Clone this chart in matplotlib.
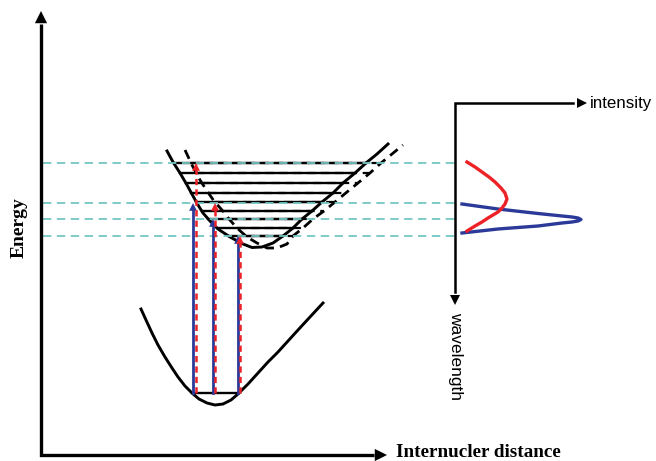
import numpy as np
import matplotlib
matplotlib.use("Agg")
import matplotlib.pyplot as plt

plt.rcParams['lines.scale_dashes'] = False

# ---- data (pixel coordinates, y downward) ----
level_y = [163, 173, 183, 193, 202, 211, 219, 228, 236]
guide_y = [163, 203, 219, 236]

upper_solid_x = [167, 173, 180, 187, 193, 198, 203, 210, 218, 230, 243, 252, 262,
                 273, 283, 293, 302, 312, 322, 333, 343, 355, 366, 377, 388]
upper_solid_y = [151, 162, 173, 185, 196, 205, 213, 221, 229, 237, 244, 247.5, 247,
                 243, 236, 228, 219, 211, 202, 193, 183, 173, 163, 154, 144]

upper_dash_x = [185, 192, 200, 207, 214, 222, 229, 237, 247, 257, 267, 277,
                287, 293, 303, 313, 324, 335, 347, 358, 370, 381, 392, 403]
upper_dash_y = [150, 165, 180, 191, 201, 210, 219, 228, 237, 243, 248, 248,
                244, 236, 228, 219, 211, 202, 192, 183, 173, 163, 154, 145]

lower_x = [141, 146, 152, 158, 165, 172, 178, 185, 192, 199, 207, 215, 223, 231,
           238, 248, 258, 268, 278, 288, 298, 310, 323]
lower_y = [309, 320, 333, 345, 357, 368, 377, 386, 393, 399, 403, 405, 404, 400,
           394, 384, 373, 362, 352, 341, 330, 317, 303]
ground_y = 393

abs_x = [193, 213, 238]          # blue (absorption) transitions
abs_top = [203, 219, 236]
emi_x = [196, 215, 240]          # red dashed transitions
emi_top = [163, 203, 236]

red_spec_x = [467, 475, 482, 489, 495, 501, 505, 507, 505, 502, 498, 493, 488, 482, 475, 467]
red_spec_y = [162, 167, 172, 177, 182, 188, 193, 199, 204, 208, 212, 215, 218, 222, 226, 231]
blue_spec_x = [462, 498, 538, 562, 572, 578, 581, 578, 572, 562, 538, 498, 462]
blue_spec_y = [204, 209, 213.5, 216, 217, 218, 219.5, 221, 222, 223, 226, 229, 233]

BLUE = '#2B3A98'
RED = '#EC2227'
CYAN = '#74C6C4'

fig = plt.figure(figsize=(6.56, 4.61), dpi=100)
ax = fig.add_axes([0, 0, 1, 1])
ax.set_xlim(0, 656)
ax.set_ylim(461, 0)
ax.axis('off')

def head(tip, base, color, scale, z):
    ax.annotate('', xy=tip, xytext=base,
                arrowprops=dict(arrowstyle='-|>', color=color, lw=0,
                                mutation_scale=scale, shrinkA=0, shrinkB=0),
                zorder=z)

# main axes
ax.plot([41, 41, 374], [24, 455, 455], color='black', lw=2.4,
        solid_joinstyle='miter', solid_capstyle='butt', zorder=5)
head((41, 11), (41, 26), 'black', 22, 5)
head((387, 455), (372, 455), 'black', 22, 5)
ax.text(19, 228, 'Energy', rotation=90, ha='center', va='center',
        family='Liberation Serif', fontweight='bold', fontsize=14)
ax.text(396, 452, 'Internucler distance', ha='left', va='center',
        family='Liberation Serif', fontweight='bold', fontsize=13.8)

# potential curves
ux = np.array(upper_solid_x, float); uy = np.array(upper_solid_y, float)
dx = np.array(upper_dash_x, float); dy = np.array(upper_dash_y, float)
ax.plot(ux, uy, color='black', lw=2.1, zorder=3)
ax.plot(dx, dy, color='black', lw=2.0, ls=(0, (7, 4.5)), zorder=3)
ax.plot(lower_x, lower_y, color='black', lw=2.1, zorder=3)

imin_u = int(np.argmax(uy)); imin_d = int(np.argmax(dy))
for y in level_y:
    xl = np.interp(y, uy[:imin_u + 1], ux[:imin_u + 1])
    xr = np.interp(y, uy[imin_u:][::-1], ux[imin_u:][::-1])
    dl = np.interp(y, dy[:imin_d + 1], dx[:imin_d + 1])
    dr = np.interp(y, dy[imin_d:][::-1], dx[imin_d:][::-1])
    ax.plot([dl, dr], [y, y], color='black', lw=1.6, ls=(0, (6, 4)), zorder=2)
    ax.plot([xl, xr], [y, y], color='black', lw=1.7, zorder=2)

# ground vibrational level
lx = np.array(lower_x, float); ly = np.array(lower_y, float)
imin_l = int(np.argmax(ly))
gl = np.interp(ground_y, ly[:imin_l + 1], lx[:imin_l + 1])
gr = np.interp(ground_y, ly[imin_l:][::-1], lx[imin_l:][::-1])
ax.plot([gl, gr], [ground_y, ground_y], color='black', lw=1.7, zorder=2)

# cyan guide lines
for y in guide_y:
    ax.plot([43, 455], [y, y], color=CYAN, lw=1.3, ls=(0, (6, 4)), zorder=4)

# transitions
for x, t in zip(abs_x, abs_top):
    ax.plot([x, x], [ground_y, t + 7], color=BLUE, lw=2.0, zorder=6)
    head((x, t), (x, t + 10), BLUE, 14, 6)
for x, t in zip(emi_x, emi_top):
    ax.plot([x, x], [ground_y, t + 7], color=RED, lw=1.8, ls=(0, (4.5, 3)), zorder=7)
    head((x, t), (x, t + 10), RED, 14, 7)

# spectrum panel
ax.plot([455, 455, 573], [292, 103, 103], color='black', lw=1.8,
        solid_joinstyle='miter', zorder=5)
head((587, 103), (572, 103), 'black', 18, 5)
head((455, 305), (455, 290), 'black', 18, 5)
ax.text(590, 103, 'intensity', ha='left', va='center',
        family='Liberation Sans', fontsize=12.2)
ax.text(456, 312, 'wavelength', rotation=-90, ha='center', va='top',
        family='Liberation Sans', fontsize=12.5)

ax.plot(red_spec_x, red_spec_y, color=RED, lw=2.4, zorder=6,
        solid_joinstyle='round')
ax.plot(blue_spec_x, blue_spec_y, color=BLUE, lw=2.4, zorder=5,
        solid_joinstyle='round')

fig.savefig('out.png', dpi=100)
